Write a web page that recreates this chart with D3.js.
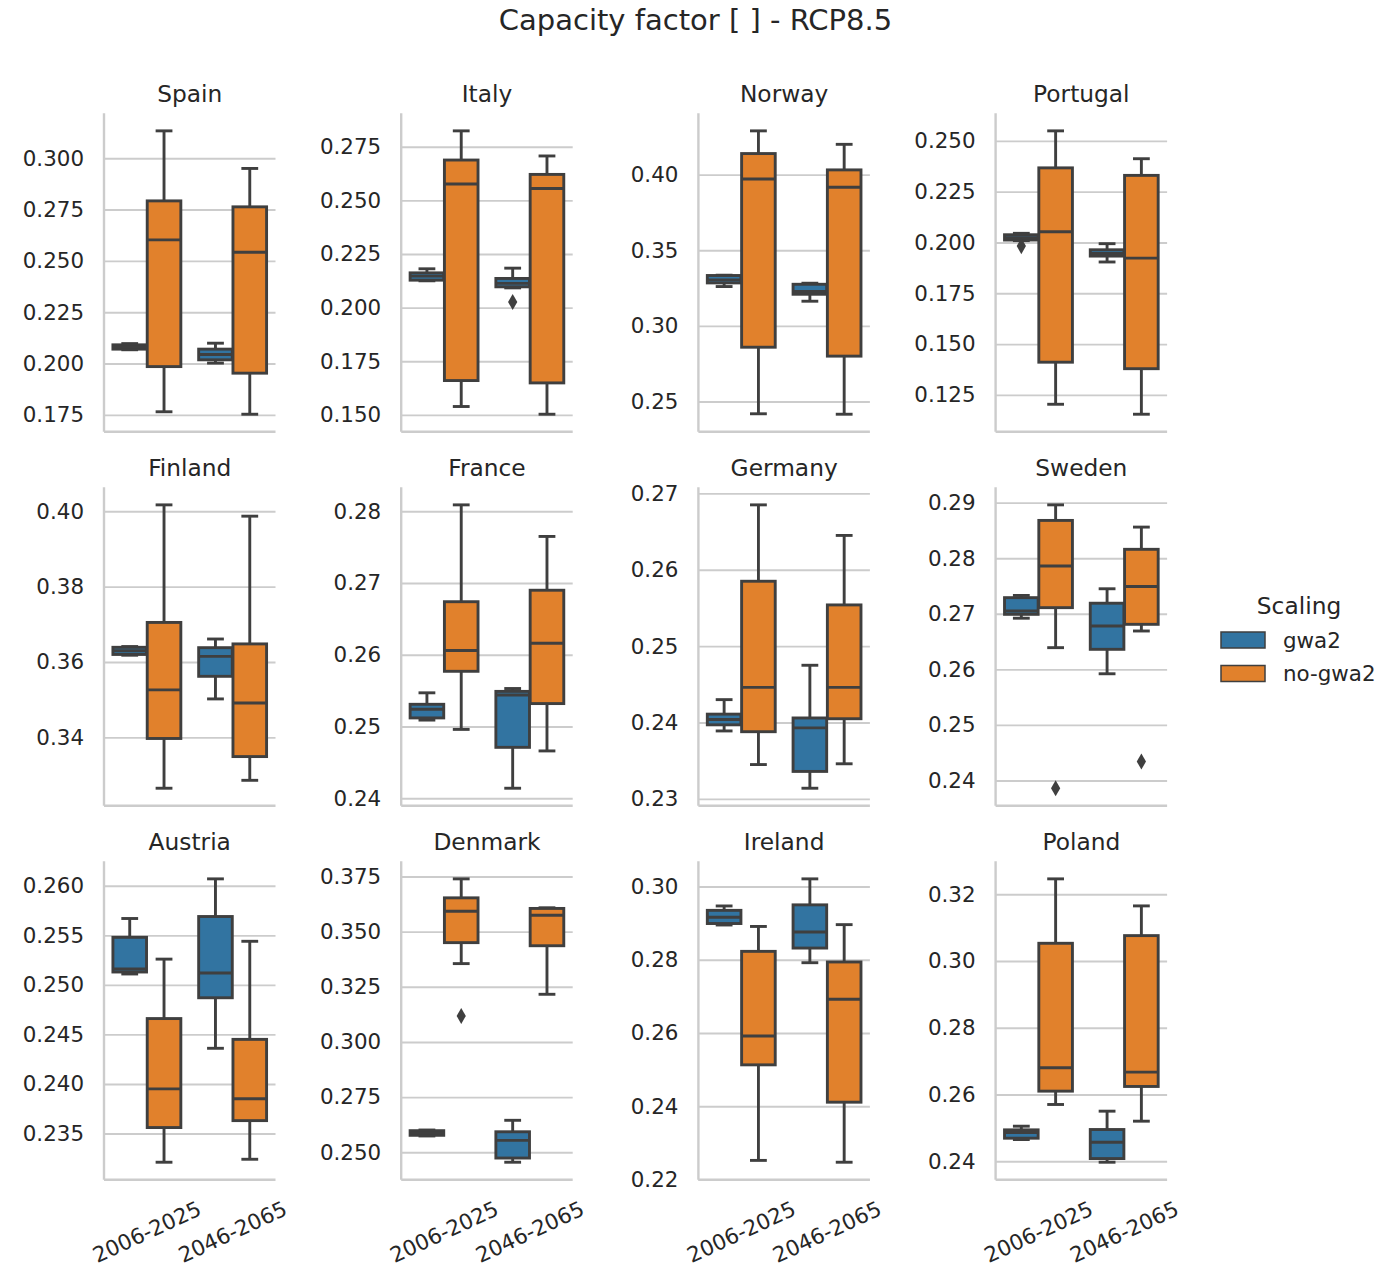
<!DOCTYPE html>
<html>
<head>
<meta charset="utf-8">
<script src="https://cdn.jsdelivr.net/npm/d3@7"></script>
<style>
  body { margin: 0; background: #fff; }
  text { font-family: "DejaVu Sans", sans-serif; fill: #262626; }
</style>
</head>
<body>
<div id="chart"></div>
<script>
// facet order (row by row)
var countries = ["Spain", "Italy", "Norway", "Portugal",
                 "Finland", "France", "Germany", "Sweden",
                 "Austria", "Denmark", "Ireland", "Poland"];
var periods = ["2006-2025", "2046-2065"];
var scalings = ["gwa2", "no-gwa2"];

// box stats: [low whisker, q1, median, q3, high whisker]
// order: gwa2 2006-2025, no-gwa2 2006-2025, gwa2 2046-2065, no-gwa2 2046-2065
var spain    = [[0.2067, 0.2070, 0.2081, 0.2091, 0.2097], [0.1765, 0.1985, 0.2602, 0.2792, 0.3133],
                [0.2002, 0.2018, 0.2044, 0.2070, 0.2099], [0.1753, 0.1953, 0.2542, 0.2763, 0.2950]];
var italy    = [[0.2125, 0.2128, 0.2147, 0.2162, 0.2181], [0.1539, 0.1660, 0.2576, 0.2688, 0.2824],
                [0.2092, 0.2097, 0.2113, 0.2136, 0.2184], [0.1503, 0.1649, 0.2555, 0.2621, 0.2707]];
var norway   = [[0.3260, 0.3284, 0.3304, 0.3333, 0.3335], [0.2419, 0.2859, 0.3971, 0.4139, 0.4289],
                [0.3163, 0.3209, 0.3227, 0.3275, 0.3282], [0.2416, 0.2800, 0.3916, 0.4031, 0.4200]];
var portugal = [[0.2009, 0.2012, 0.2023, 0.2038, 0.2045], [0.1204, 0.1411, 0.2053, 0.2367, 0.2549],
                [0.1904, 0.1933, 0.1946, 0.1964, 0.1994], [0.1155, 0.1379, 0.1923, 0.2330, 0.2412]];
var finland  = [[0.3618, 0.3620, 0.3630, 0.3639, 0.3641], [0.3265, 0.3397, 0.3526, 0.3705, 0.4017],
                [0.3502, 0.3562, 0.3615, 0.3638, 0.3661], [0.3286, 0.3349, 0.3491, 0.3648, 0.3987]];
var france   = [[0.2509, 0.2512, 0.2524, 0.2531, 0.2547], [0.2496, 0.2577, 0.2606, 0.2674, 0.2809],
                [0.2414, 0.2471, 0.2544, 0.2549, 0.2553], [0.2466, 0.2532, 0.2616, 0.2690, 0.2765]];
var germany  = [[0.2389, 0.2397, 0.2404, 0.2411, 0.2430], [0.2345, 0.2388, 0.2446, 0.2585, 0.2685],
                [0.2314, 0.2336, 0.2393, 0.2406, 0.2475], [0.2346, 0.2405, 0.2446, 0.2554, 0.2645]];
var sweden   = [[0.2692, 0.2699, 0.2705, 0.2729, 0.2733], [0.2639, 0.2711, 0.2786, 0.2868, 0.2896],
                [0.2592, 0.2636, 0.2678, 0.2719, 0.2745], [0.2669, 0.2681, 0.2749, 0.2816, 0.2856]];
var austria  = [[0.2511, 0.2513, 0.2516, 0.2548, 0.2567], [0.2321, 0.2356, 0.2395, 0.2466, 0.2526],
                [0.2436, 0.2487, 0.2512, 0.2569, 0.2607], [0.2324, 0.2363, 0.2385, 0.2445, 0.2544]];
var denmark  = [[0.2574, 0.2577, 0.2587, 0.2598, 0.2601], [0.3355, 0.3450, 0.3592, 0.3653, 0.3739],
                [0.2455, 0.2474, 0.2554, 0.2593, 0.2645], [0.3216, 0.3436, 0.3574, 0.3605, 0.3608]];
var ireland  = [[0.2895, 0.2899, 0.2916, 0.2935, 0.2947], [0.2252, 0.2513, 0.2592, 0.2823, 0.2891],
                [0.2792, 0.2832, 0.2876, 0.2950, 0.3021], [0.2247, 0.2411, 0.2692, 0.2794, 0.2896]];
var poland   = [[0.2465, 0.2469, 0.2486, 0.2494, 0.2505], [0.2570, 0.2610, 0.2680, 0.3053, 0.3246],
                [0.2397, 0.2408, 0.2457, 0.2495, 0.2550], [0.2520, 0.2624, 0.2667, 0.3076, 0.3165]];
var boxStats = [spain, italy, norway, portugal, finland, france, germany, sweden, austria, denmark, ireland, poland];

// fliers: [country, period, scaling, value]
var outliers = [["Italy", "2046-2065", "gwa2", 0.2026],
                ["Portugal", "2006-2025", "gwa2", 0.1982],
                ["Sweden", "2006-2025", "no-gwa2", 0.2386],
                ["Sweden", "2046-2065", "no-gwa2", 0.2434],
                ["Denmark", "2006-2025", "no-gwa2", 0.3118]];

var tickLabels = [
  ["0.175", "0.200", "0.225", "0.250", "0.275", "0.300"],
  ["0.150", "0.175", "0.200", "0.225", "0.250", "0.275"],
  ["0.25", "0.30", "0.35", "0.40"],
  ["0.125", "0.150", "0.175", "0.200", "0.225", "0.250"],
  ["0.34", "0.36", "0.38", "0.40"],
  ["0.24", "0.25", "0.26", "0.27", "0.28"],
  ["0.23", "0.24", "0.25", "0.26", "0.27"],
  ["0.24", "0.25", "0.26", "0.27", "0.28", "0.29"],
  ["0.235", "0.240", "0.245", "0.250", "0.255", "0.260"],
  ["0.250", "0.275", "0.300", "0.325", "0.350", "0.375"],
  ["0.22", "0.24", "0.26", "0.28", "0.30"],
  ["0.24", "0.26", "0.28", "0.30", "0.32"]
];

var colors = {"gwa2": "#3274a1", "no-gwa2": "#e1812c"};
var lineColor = "#3f3f3f";
var gridColor = "#cccccc";

var W = 1383, H = 1271;
var left0 = 104, colStep = 297.2, panelW = 171.5;
var top0 = 113.3, rowStep = 374, panelH = 318.5;

var svg = d3.select("#chart").append("svg")
  .attr("width", W)
  .attr("height", H);

svg.append("text")
  .attr("x", 695.5)
  .attr("y", 30)
  .attr("text-anchor", "middle")
  .style("font-size", "29px")
  .text("Capacity factor [ ] - RCP8.5");

var xScale = d3.scaleBand().domain(periods).range([0, panelW]);
var hueScale = d3.scaleBand().domain(scalings)
  .range([xScale.bandwidth() * 0.1, xScale.bandwidth() * 0.9]);
var boxW = hueScale.bandwidth() * 0.98;

var drawPanel = function(k) {
  var row = Math.floor(k / 4), col = k % 4;
  var name = countries[k];
  var stats = boxStats[k];
  var flier = outliers.filter(function(o) { return o[0] == name; });

  var all = [];
  stats.forEach(function(s) { all.push(s[0], s[4]); });
  flier.forEach(function(o) { all.push(o[3]); });
  var lo = d3.min(all), hi = d3.max(all);
  var pad = (hi - lo) * 0.062;

  var y = d3.scaleLinear()
    .domain([lo - pad, hi + pad])
    .range([panelH, 0]);

  var g = svg.append("g")
    .attr("transform", "translate(" + (left0 + col * colStep) + "," + (top0 + row * rowStep) + ")");

  var ticks = tickLabels[k];
  var yAxis = d3.axisLeft(y)
    .tickValues(ticks.map(function(t) { return +t; }))
    .tickFormat(function(d, i) { return ticks[i]; })
    .tickSize(-panelW)
    .tickPadding(20);

  var yAxisGroup = g.append("g").call(yAxis);
  yAxisGroup.select(".domain").remove();
  yAxisGroup.selectAll(".tick line")
    .attr("stroke", gridColor)
    .attr("stroke-width", 1.9);
  yAxisGroup.selectAll(".tick text")
    .style("font-size", "21.4px")
    .attr("fill", "#262626")
    .attr("font-family", "DejaVu Sans");

  // spines
  g.append("line").attr("x1", 0).attr("x2", 0).attr("y1", 0).attr("y2", panelH)
    .attr("stroke", gridColor).attr("stroke-width", 2.4);
  g.append("line").attr("x1", 0).attr("x2", panelW).attr("y1", panelH).attr("y2", panelH)
    .attr("stroke", gridColor).attr("stroke-width", 2.4);

  if (row == 2) {
    var xAxis = d3.axisBottom(xScale).tickSize(0).tickPadding(0);
    var xAxisGroup = g.append("g")
      .attr("transform", "translate(0," + panelH + ")")
      .call(xAxis);
    xAxisGroup.select(".domain").remove();
    xAxisGroup.selectAll(".tick text")
      .style("font-size", "21.4px")
      .attr("fill", "#262626")
      .attr("font-family", "DejaVu Sans")
      .attr("y", 52)
      .attr("dy", "0.35em")
      .attr("text-anchor", "middle")
      .attr("transform", "rotate(-25,0,52)");
  }

  g.append("text")
    .attr("x", panelW / 2)
    .attr("y", -11)
    .attr("text-anchor", "middle")
    .style("font-size", "23.3px")
    .text(name);

  var boxes = [];
  periods.forEach(function(p, pi) {
    scalings.forEach(function(s, si) {
      boxes.push({period: p, scaling: s, v: stats[pi * 2 + si]});
    });
  });

  var bg = g.selectAll("g.box")
    .data(boxes)
    .enter()
    .append("g")
    .attr("class", "box")
    .attr("transform", function(d) {
      return "translate(" + (xScale(d.period) + hueScale(d.scaling) + hueScale.bandwidth() / 2) + ",0)";
    });

  // whiskers
  bg.append("line")
    .attr("x1", 0).attr("x2", 0)
    .attr("y1", function(d) { return y(d.v[0]); })
    .attr("y2", function(d) { return y(d.v[1]); })
    .attr("stroke", lineColor).attr("stroke-width", 2.9);
  bg.append("line")
    .attr("x1", 0).attr("x2", 0)
    .attr("y1", function(d) { return y(d.v[3]); })
    .attr("y2", function(d) { return y(d.v[4]); })
    .attr("stroke", lineColor).attr("stroke-width", 2.9);
  // caps
  [0, 4].forEach(function(j) {
    bg.append("line")
      .attr("x1", -boxW / 4).attr("x2", boxW / 4)
      .attr("y1", function(d) { return y(d.v[j]); })
      .attr("y2", function(d) { return y(d.v[j]); })
      .attr("stroke", lineColor).attr("stroke-width", 2.9);
  });
  // box
  bg.append("rect")
    .attr("x", -boxW / 2)
    .attr("width", boxW)
    .attr("y", function(d) { return y(d.v[3]); })
    .attr("height", function(d) { return y(d.v[1]) - y(d.v[3]); })
    .attr("fill", function(d) { return colors[d.scaling]; })
    .attr("stroke", lineColor).attr("stroke-width", 2.9);
  // median
  bg.append("line")
    .attr("x1", -boxW / 2).attr("x2", boxW / 2)
    .attr("y1", function(d) { return y(d.v[2]); })
    .attr("y2", function(d) { return y(d.v[2]); })
    .attr("stroke", lineColor).attr("stroke-width", 2.9);

  var diamond = d3.symbol().type(d3.symbolDiamond).size(74);
  g.selectAll("path.flier")
    .data(flier)
    .enter()
    .append("path")
    .attr("class", "flier")
    .attr("d", diamond)
    .attr("fill", lineColor)
    .attr("transform", function(d) {
      return "translate(" + (xScale(d[1]) + hueScale(d[2]) + hueScale.bandwidth() / 2) + "," + y(d[3]) + ")";
    });
};

for (var k = 0; k < countries.length; k++) {
  drawPanel(k);
}

// legend
var legend = svg.append("g");
legend.append("text")
  .attr("x", 1299)
  .attr("y", 614)
  .attr("text-anchor", "middle")
  .style("font-size", "23.3px")
  .text("Scaling");

var items = legend.selectAll("g.item")
  .data(scalings)
  .enter()
  .append("g")
  .attr("class", "item")
  .attr("transform", function(d, i) { return "translate(1221," + (640 + i * 33.5) + ")"; });

items.append("rect")
  .attr("x", 0).attr("y", -8)
  .attr("width", 44).attr("height", 16)
  .attr("fill", function(d) { return colors[d]; })
  .attr("stroke", lineColor).attr("stroke-width", 1.5);

items.append("text")
  .attr("x", 62)
  .attr("y", 0)
  .attr("dy", "0.35em")
  .style("font-size", "21.4px")
  .text(function(d) { return d; });
</script>
</body>
</html>
